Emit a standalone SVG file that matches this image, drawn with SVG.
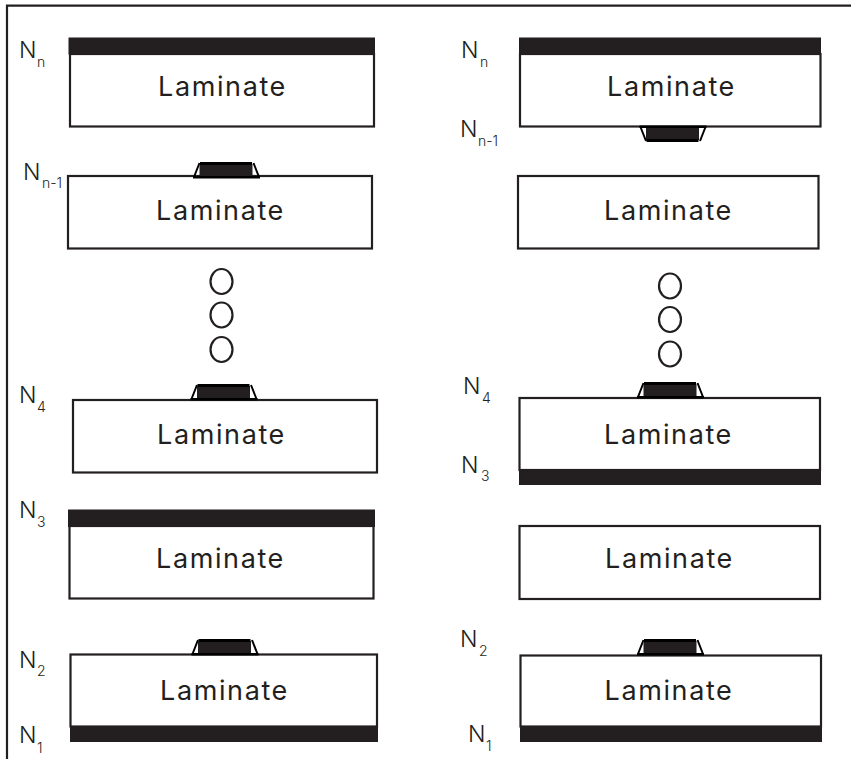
<svg xmlns="http://www.w3.org/2000/svg" xmlns:xlink="http://www.w3.org/1999/xlink" width="851" height="759" viewBox="0 0 851 759">
<style>
.box{fill:#fff;stroke:#231f20;stroke-width:2.2}
.bar{fill:#231f20;stroke:none}
.t{font-family:"Inter","Liberation Sans",sans-serif;font-size:27px;font-weight:400;fill:#231f20;text-anchor:middle;letter-spacing:1.6px}
.n{font-family:"Inter","Liberation Sans",sans-serif;font-size:23px;font-weight:300;fill:#231f20}
.s{font-family:"Inter","Liberation Sans",sans-serif;font-size:14px;font-weight:300;fill:#231f20}
.c{fill:#fff;stroke:#231f20;stroke-width:2.2}
.frame{fill:none;stroke:#231f20;stroke-width:2.2}
</style>
<defs>
<g id="pad"><path d="M0 0L5.5 -14M65 0L59.5 -14" fill="none" stroke="#000" stroke-width="2"/><rect x="5.5" y="-13" width="53" height="13" fill="#231f20"/><rect x="6" y="-15" width="52" height="3" fill="#000"/><rect x="-1" y="-1" width="67" height="2.5" fill="#000"/></g>
</defs>
<rect width="851" height="759" fill="#fff"/>
<path class="frame" d="M7 759V5.7H851"/>
<g id="left-1"><rect class="box" x="70" y="54" width="304" height="72.5"/><rect class="bar" x="68.5" y="37.5" width="306.5" height="17"/><text class="t" x="222.500" y="95.500">Laminate</text><text class="n" x="19" y="58">N</text><text class="s" x="37" y="67">n</text></g>
<g id="left-2"><rect class="box" x="68" y="176" width="304" height="72.5"/><use xlink:href="#pad" x="194" y="177"/><text class="t" x="220.500" y="219.500">Laminate</text><text class="n" x="23" y="180">N</text><text class="s" x="42" y="188">n-1</text></g>
<g id="left-dots"><ellipse class="c" cx="221.500" cy="281.500" rx="11" ry="12.500"/><ellipse class="c" cx="221.500" cy="315" rx="11" ry="12.500"/><ellipse class="c" cx="221.500" cy="349.500" rx="11" ry="12.500"/></g>
<g id="left-3"><rect class="box" x="73" y="400" width="304" height="72.500"/><use xlink:href="#pad" x="191.500" y="399"/><text class="t" x="221.500" y="443.500">Laminate</text><text class="n" x="19" y="403">N</text><text class="s" x="37" y="412">4</text></g>
<g id="left-4"><rect class="box" x="69.500" y="526" width="304" height="72.500"/><rect class="bar" x="68" y="509.500" width="307" height="17.500"/><text class="t" x="220.500" y="567.500">Laminate</text><text class="n" x="19" y="518">N</text><text class="s" x="37" y="527">3</text></g>
<g id="left-5"><rect class="box" x="70.500" y="654.500" width="306.500" height="72"/><use xlink:href="#pad" x="192.500" y="654"/><rect class="bar" x="70" y="726" width="308" height="16"/><text class="t" x="224.500" y="699.500">Laminate</text><text class="n" x="19" y="668">N</text><text class="s" x="37" y="676">2</text><text class="n" x="19" y="743">N</text><text class="s" x="37" y="753">1</text></g>
<g id="right-1"><rect class="box" x="520" y="54" width="300.500" height="72.500"/><rect class="bar" x="519" y="37.500" width="302" height="17"/><use xlink:href="#pad" transform="translate(640.500 127) scale(1 -1)"/><text class="t" x="671.500" y="95.500">Laminate</text><text class="n" x="461" y="58">N</text><text class="s" x="480" y="67">n</text><text class="n" x="460" y="137">N</text><text class="s" x="478" y="146">n-1</text></g>
<g id="right-2"><rect class="box" x="518" y="176" width="300.500" height="72.500"/><text class="t" x="668.500" y="219.500">Laminate</text></g>
<g id="right-dots"><ellipse class="c" cx="670" cy="286" rx="11" ry="12.500"/><ellipse class="c" cx="670" cy="319.500" rx="11" ry="12.500"/><ellipse class="c" cx="670" cy="354" rx="11" ry="12.500"/></g>
<g id="right-3"><rect class="box" x="519.500" y="398" width="300.500" height="72"/><use xlink:href="#pad" x="638" y="397"/><rect class="bar" x="519" y="469" width="302" height="16"/><text class="t" x="668.500" y="443.500">Laminate</text><text class="n" x="463" y="394">N</text><text class="s" x="482" y="403">4</text><text class="n" x="461" y="473">N</text><text class="s" x="481" y="481">3</text></g>
<g id="right-4"><rect class="box" x="519.500" y="526" width="300.500" height="73"/><text class="t" x="669.500" y="567.500">Laminate</text></g>
<g id="right-5"><rect class="box" x="520.500" y="655.500" width="300.500" height="71"/><use xlink:href="#pad" x="638" y="654"/><rect class="bar" x="520" y="726" width="302" height="16"/><text class="t" x="669" y="699.500">Laminate</text><text class="n" x="460" y="647">N</text><text class="s" x="479" y="656">2</text><text class="n" x="468" y="742">N</text><text class="s" x="486" y="751">1</text></g>
</svg>
